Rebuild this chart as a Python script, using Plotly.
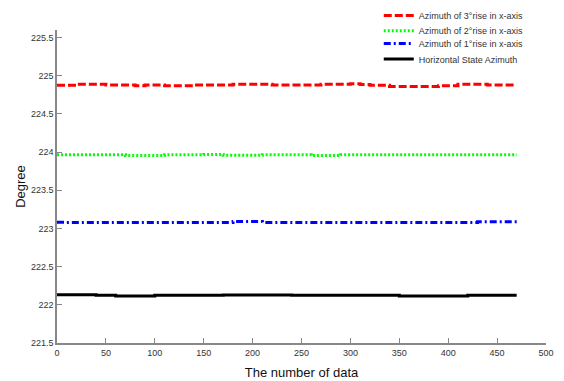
import plotly.graph_objects as go

x = list(range(0, 471, 10))

red = [224.875, 224.875, 224.89, 224.89, 224.89, 224.88, 224.88, 224.88, 224.87, 224.88,
       224.88, 224.87, 224.87, 224.87, 224.88, 224.88, 224.88, 224.88, 224.89, 224.89,
       224.89, 224.89, 224.88, 224.88, 224.88, 224.88, 224.88, 224.89, 224.89, 224.89,
       224.895, 224.885, 224.875, 224.875, 224.86, 224.86, 224.86, 224.86, 224.86, 224.87,
       224.87, 224.89, 224.89, 224.89, 224.88, 224.88, 224.88, 224.88]
green = [223.965, 223.965, 223.965, 223.965, 223.965, 223.965, 223.965, 223.955, 223.955, 223.955,
         223.955, 223.965, 223.965, 223.965, 223.965, 223.97, 223.97, 223.958, 223.958, 223.958,
         223.958, 223.965, 223.965, 223.965, 223.965, 223.965, 223.955, 223.955, 223.955, 223.965,
         223.965, 223.965, 223.965, 223.965, 223.965, 223.965, 223.965, 223.965, 223.965, 223.965,
         223.965, 223.965, 223.965, 223.965, 223.965, 223.965, 223.965, 223.965]
blue = [223.082, 223.08, 223.08, 223.08, 223.08, 223.08, 223.08, 223.08, 223.08, 223.08,
        223.08, 223.08, 223.08, 223.08, 223.08, 223.08, 223.08, 223.08, 223.09, 223.09,
        223.09, 223.08, 223.08, 223.08, 223.08, 223.08, 223.08, 223.08, 223.08, 223.08,
        223.08, 223.08, 223.08, 223.08, 223.08, 223.08, 223.08, 223.08, 223.08, 223.08,
        223.08, 223.08, 223.08, 223.088, 223.088, 223.088, 223.088, 223.088]
black = [222.132, 222.132, 222.132, 222.132, 222.125, 222.125, 222.115, 222.115, 222.115, 222.115,
         222.125, 222.125, 222.125, 222.125, 222.125, 222.125, 222.125, 222.13, 222.13, 222.13,
         222.13, 222.13, 222.13, 222.13, 222.125, 222.125, 222.125, 222.125, 222.125, 222.125,
         222.125, 222.125, 222.125, 222.125, 222.125, 222.115, 222.115, 222.115, 222.115, 222.115,
         222.115, 222.115, 222.125, 222.125, 222.125, 222.125, 222.125, 222.125]

series = [
    ("Azimuth of 3°rise in x-axis", red, "#ff0000", "8px,3px", "legend"),
    ("Azimuth of 2°rise in x-axis", green, "#00ff00", "2px,2px", "legend2"),
    ("Azimuth of 1°rise in x-axis", blue, "#0000ff", "7px,3px,2px,3px", "legend3"),
    ("Horizontal State Azimuth", black, "#000000", "solid", "legend4"),
]

fig = go.Figure()
for name, ys, col, dash, lg in series:
    fig.add_trace(go.Scatter(x=x, y=ys, mode="lines", name=name, legend=lg,
                             line=dict(color=col, width=3, dash=dash, shape="hv")))

legend_rows_y = [1.046, 0.998, 0.957, 0.907]
leg_common = dict(x=0.658, xanchor="left", yanchor="middle",
                  font=dict(size=9, color="#333333"),
                  bgcolor="rgba(0,0,0,0)", itemwidth=30)

fig.update_layout(
    width=556, height=373,
    margin=dict(l=49, r=18, t=22, b=38, autoexpand=False),
    paper_bgcolor="white", plot_bgcolor="white",
    font=dict(family="Liberation Sans, Arial, sans-serif", size=9, color="#333333"),
    showlegend=True,
    legend=dict(y=legend_rows_y[0], **leg_common),
    legend2=dict(y=legend_rows_y[1], **leg_common),
    legend3=dict(y=legend_rows_y[2], **leg_common),
    legend4=dict(y=legend_rows_y[3], **leg_common),
    xaxis=dict(range=[0, 500], tickvals=list(range(0, 501, 50)),
               showgrid=False, zeroline=False, showline=True, linecolor="#888888", linewidth=1.5,
               ticks="inside", ticklen=5, tickcolor="#888888",
               tickfont=dict(size=9, color="#333333"),
               title=dict(text="The number of data", font=dict(size=13, color="#111111"), standoff=11)),
    yaxis=dict(range=[221.5, 225.6], tickvals=[221.5, 222, 222.5, 223, 223.5, 224, 224.5, 225, 225.5],
               ticktext=["221.5", "222", "222.5", "223", "223.5", "224", "224.5", "225", "225.5"],
               showgrid=False, zeroline=False, showline=True, linecolor="#888888", linewidth=1.5,
               ticks="inside", ticklen=5, tickcolor="#888888",
               tickfont=dict(size=9, color="#333333"),
               title=dict(text="Degree", font=dict(size=13, color="#111111"), standoff=2)),
)

fig.write_html("out.html")
